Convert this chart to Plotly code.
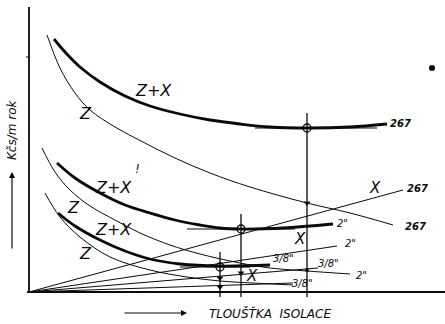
import plotly.graph_objects as go

# Insulation thickness (x) vs. annual cost per metre (y), arbitrary units.
# Three pipe sizes: 267, 2" and 3/8". Z = loss cost, X = insulation cost, Z+X = total.

# --- pipe 267 ---
zx_267_x = [25, 36, 51, 71, 96, 121, 151, 181, 211, 241, 278, 321, 358]
zx_267_y = [253, 240, 225, 210, 196, 186, 178, 172, 168, 165, 164, 165, 168]
z_267_x = [18, 31, 46, 61, 86, 114, 146, 181, 221, 278, 321, 364]
z_267_y = [257, 224, 199, 182, 165, 150, 134, 119, 105, 89, 79, 67]
x_267_x = [0, 374]
x_267_y = [0, 102]

# --- pipe 2" ---
zx_2_x = [28, 46, 71, 96, 121, 146, 171, 191, 212, 254, 304]
zx_2_y = [129, 114, 99, 87, 79, 72, 67, 64, 63, 64, 68]
z_2_x = [13, 26, 41, 61, 86, 111, 141, 171, 211, 241, 278, 321]
z_2_y = [144, 120, 102, 86, 72, 59, 47, 38, 29, 24, 21, 18]
x_2_x = [0, 308]
x_2_y = [0, 46]

# --- pipe 3/8" ---
zx_38_x = [29, 46, 71, 96, 121, 151, 191, 241]
zx_38_y = [79, 66, 52, 41, 33, 28, 26, 27]
z_38_x = [16, 31, 51, 81, 121, 158, 191, 224, 264]
z_38_y = [99, 75, 55, 35, 22, 15, 11, 9, 7]
x_38_x = [0, 289]
x_38_y = [0, 24]
x_38b_x = [0, 264]
x_38b_y = [0, 9]

# optimum (minimum of Z+X) for each pipe
opt_x = [278, 212, 191]
opt_y = [164, 63, 25]
tangent_half = [[226, 348], [158, 266], [151, 221]]

INK = "#0a0a0a"
fig = go.Figure()


def line(xs, ys, w=1.0, shape="spline"):
    fig.add_trace(go.Scatter(x=xs, y=ys, mode="lines",
                             line=dict(color=INK, width=w, shape=shape, smoothing=1.0),
                             hoverinfo="skip", showlegend=False))


# axes
line([0, 0], [0, 285], 1.8, "linear")
line([-2, 416], [0, 0], 1.8, "linear")
line([-3, 0], [235, 235], 1.0, "linear")

# cost curves
line(zx_267_x, zx_267_y, 2.8)
line(z_267_x, z_267_y, 1.0)
line(x_267_x, x_267_y, 1.0, "linear")
line(zx_2_x, zx_2_y, 2.8)
line(z_2_x, z_2_y, 1.0)
line(x_2_x, x_2_y, 1.0, "linear")
line(zx_38_x, zx_38_y, 2.8)
line(z_38_x, z_38_y, 1.0)
line(x_38_x, x_38_y, 1.0, "linear")
line(x_38b_x, x_38b_y, 1.0, "linear")

# tangents at the minima and drop lines to the thickness axis
for (a, b), ox, oy in zip(tangent_half, opt_x, opt_y):
    line([a, b], [oy, oy], 1.0, "linear")
    line([ox, ox], [oy + 15, -5], 1.3, "linear")

fig.add_trace(go.Scatter(x=opt_x, y=opt_y, mode="markers",
                         marker=dict(symbol="circle-open", size=8, color=INK,
                                     line=dict(width=1.3, color=INK)),
                         hoverinfo="skip", showlegend=False))

# arrow heads on the drop lines
fig.add_trace(go.Scatter(x=[278, 212, 191, 191], y=[89, 19, 14, 5], mode="markers",
                         marker=dict(symbol="triangle-down", size=6, color=INK),
                         hoverinfo="skip", showlegend=False))
fig.add_trace(go.Scatter(x=[278], y=[22], mode="markers",
                         marker=dict(symbol="circle", size=4, color=INK),
                         hoverinfo="skip", showlegend=False))
# ink blot
fig.add_trace(go.Scatter(x=[403], y=[224], mode="markers",
                         marker=dict(symbol="circle", size=6, color=INK),
                         hoverinfo="skip", showlegend=False))

labels = [
    ("Z+X", 124, 202, 16, 400), ("Z", 56, 179, 16, 400), ("267", 371, 169, 10, 700),
    ("X", 346, 104, 15, 400), ("267", 388, 104, 10, 700), ("267", 386, 66, 10, 700),
    ("Z+X", 84, 105, 16, 400), ("!", 108, 123, 12, 400), ("Z", 44, 85, 16, 400),
    ("Z+X", 84, 63, 16, 400), ("Z", 56, 39, 16, 400),
    ("2\"", 313, 69, 10, 400), ("X", 271, 53, 15, 400), ("2\"", 321, 49, 10, 400),
    ("3/8\"", 254, 34, 10, 400), ("3/8\"", 299, 29, 10, 400), ("2\"", 332, 17, 10, 400),
    ("X", 223, 16, 15, 400), ("3/8\"", 273, 9, 10, 400),
]
for t, x, y, s, wgt in labels:
    fig.add_annotation(x=x, y=y, text=f"<i>{t}</i>", showarrow=False,
                       font=dict(family="DejaVu Sans", size=s, color=INK, weight=wgt))

# axis titles with arrows
fig.add_annotation(x=-17, y=162, text="<i>Kčs/m rok</i>", textangle=-90, showarrow=False,
                   font=dict(family="DejaVu Sans", size=12, color=INK))
fig.add_annotation(x=-17, y=120, ax=-17, ay=42, xref="x", yref="y", axref="x", ayref="y",
                   showarrow=True, arrowhead=2, arrowsize=1, arrowwidth=1.2,
                   arrowcolor=INK, text="")
fig.add_annotation(x=241, y=-21, text="<i>TLOUŠŤKA  ISOLACE</i>", showarrow=False,
                   font=dict(family="DejaVu Sans", size=12, color=INK))
fig.add_annotation(x=158, y=-21, ax=94, ay=-21, xref="x", yref="y", axref="x", ayref="y",
                   showarrow=True, arrowhead=2, arrowsize=1, arrowwidth=1.2,
                   arrowcolor=INK, text="")

fig.update_layout(width=445, height=324, margin=dict(l=0, r=0, t=0, b=0),
                  paper_bgcolor="white", plot_bgcolor="white")
fig.update_xaxes(range=[-29, 416], visible=False)
fig.update_yaxes(range=[-32, 292], visible=False)
fig.write_html("out.html")
